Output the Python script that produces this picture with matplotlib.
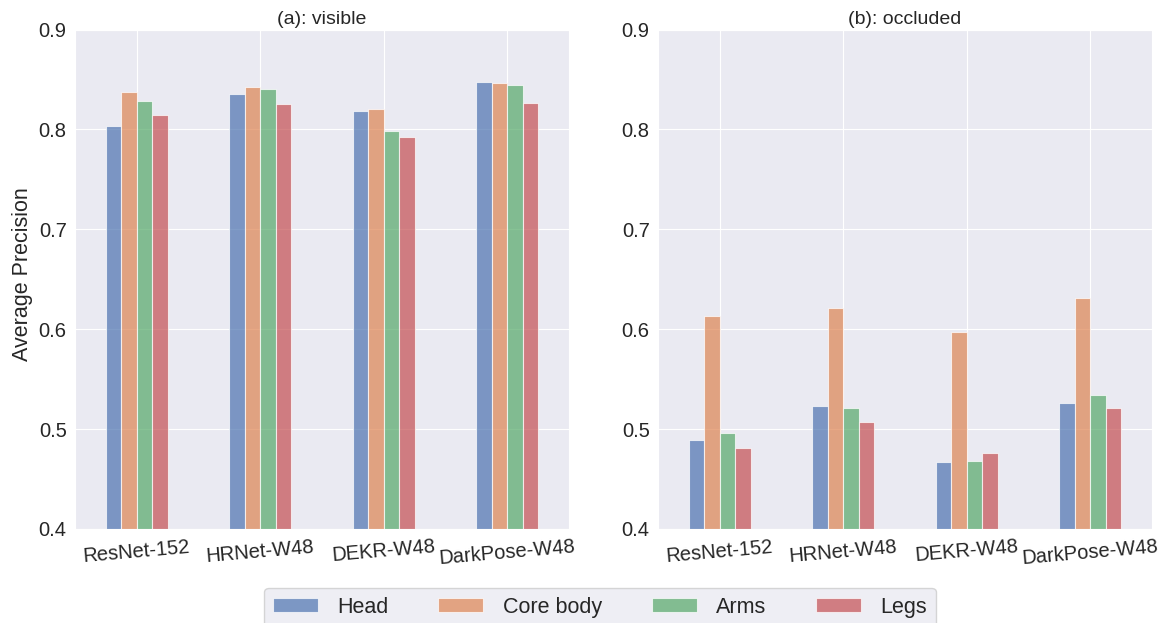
import numpy as np
import matplotlib
matplotlib.use("Agg")
import matplotlib.pyplot as plt
import seaborn as sns

sns.set_style("darkgrid")
plt.rcParams["font.family"] = ["Liberation Sans", "DejaVu Sans"]

models = ["ResNet-152", "HRNet-W48", "DEKR-W48", "DarkPose-W48"]
parts = ["Head", "Core body", "Arms", "Legs"]

# Average precision per body part, visible keypoints
visible_head = [0.803, 0.836, 0.818, 0.848]
visible_core = [0.838, 0.843, 0.820, 0.847]
visible_arms = [0.828, 0.841, 0.798, 0.845]
visible_legs = [0.814, 0.825, 0.792, 0.826]

# Average precision per body part, occluded keypoints
occluded_head = [0.489, 0.523, 0.467, 0.526]
occluded_core = [0.613, 0.621, 0.597, 0.631]
occluded_arms = [0.496, 0.521, 0.468, 0.534]
occluded_legs = [0.481, 0.507, 0.476, 0.521]

yticks = [0.4, 0.5, 0.6, 0.7, 0.8, 0.9]
colors = sns.color_palette("deep")[:4]

fig = plt.figure(figsize=(11.65, 6.23), dpi=100)
ax_a = fig.add_axes([0.0644, 0.151, 0.424, 0.8015])
ax_b = fig.add_axes([0.5648, 0.151, 0.424, 0.8015])

panels = [
    (ax_a, "(a): visible", [visible_head, visible_core, visible_arms, visible_legs]),
    (ax_b, "(b): occluded", [occluded_head, occluded_core, occluded_arms, occluded_legs]),
]

x = np.arange(len(models))
width = 0.125
handles = []
for ax, title, series in panels:
    for i, (vals, name) in enumerate(zip(series, parts)):
        offset = (i - 1.5) * width
        bars = ax.bar(x + offset, vals, width, color=colors[i], alpha=0.7,
                      edgecolor="white", linewidth=0.8, label=name)
        if ax is ax_a:
            handles.append(bars)
    ax.set_xlim(-0.5, 3.5)
    ax.set_ylim(0.4, 0.9)
    ax.set_yticks(yticks)
    ax.set_yticklabels([f"{v:.1f}" for v in yticks])
    ax.set_xticks(x)
    ax.set_xticklabels(models, rotation=5)
    ax.tick_params(axis="both", labelsize=14.5, length=0, pad=6, colors="#262626")
    ax.set_title(title, fontsize=14, pad=4, color="#262626")

ax_a.set_ylabel("Average Precision", fontsize=15.5, color="#262626")
ax_a.yaxis.set_label_coords(-0.085, 0.51)

fig.legend(handles, parts, loc="upper center", ncol=4,
           bbox_to_anchor=(600 / 1165, 1 - 588 / 623), borderaxespad=0,
           fontsize=15.5, handlelength=2.1, handleheight=0.65,
           handletextpad=0.9, columnspacing=2.3, frameon=True)

fig.savefig("out.png", dpi=100)
